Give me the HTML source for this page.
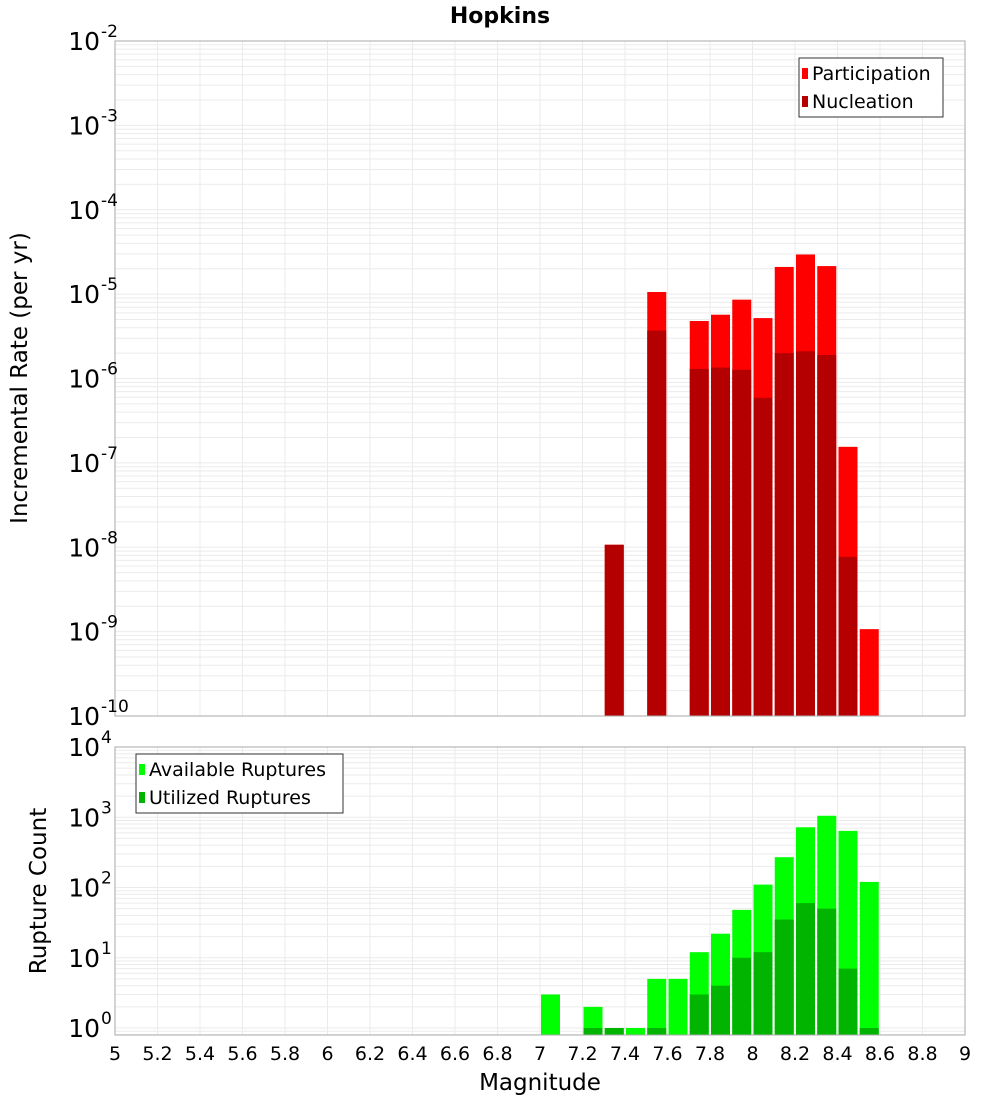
<!DOCTYPE html>
<html><head><meta charset="utf-8"><style>
body{margin:0;background:#fff}
svg text{font-family:"DejaVu Sans","Liberation Sans",sans-serif}
</style></head><body>
<svg id="c" width="1000" height="1100" xmlns="http://www.w3.org/2000/svg"></svg>
<script>
const mags = [7.05,7.25,7.35,7.45,7.55,7.65,7.75,7.85,7.95,8.05,8.15,8.25,8.35,8.45,8.55];
const participation = [0,0,1.07e-8,0,1.06e-5,0,4.8e-6,5.7e-6,8.6e-6,5.2e-6,2.1e-5,2.95e-5,2.15e-5,1.55e-7,1.07e-9];
const nucleation = [0,0,1.07e-8,0,3.7e-6,0,1.3e-6,1.35e-6,1.27e-6,5.9e-7,2.0e-6,2.1e-6,1.9e-6,7.7e-9,0];
const available = [3,2,1,1,5,5,12,22,48,110,270,720,1050,640,120];
const utilized = [0,1,1,0,1,0,3,4,10,12,35,60,50,7,1];
const xTicks = [5,5.2,5.4,5.6,5.8,6,6.2,6.4,6.6,6.8,7,7.2,7.4,7.6,7.8,8,8.2,8.4,8.6,8.8,9];
const topExps = [-2,-3,-4,-5,-6,-7,-8,-9,-10];
const botExps = [4,3,2,1,0];

const NS='http://www.w3.org/2000/svg';
const svg=document.getElementById('c');
function el(t,a,p){const e=document.createElementNS(NS,t);for(const k in a)e.setAttribute(k,a[k]);(p||svg).appendChild(e);return e;}
const X0=115,X1=965;
const xs=m=>X0+(m-5)/4*(X1-X0);
const T0=41,T1=716;
const yt=v=>T0+(-2-Math.log10(v))*(T1-T0)/8;
const B0=747,B1=1035;
const yb=v=>1028-Math.log10(v)*70.25;

function grid(y0,y1,yf,minE,maxE,name){
  const g=el('g',{});  
  for(let e=minE;e<=maxE;e++)for(let k=1;k<10;k++){const y=yf(k*Math.pow(10,e));if(y>=y0&&y<=y1)el('line',{x1:X0,x2:X1,y1:y,y2:y,stroke:'#ebebeb','stroke-width':1},g);}
  xTicks.forEach(t=>{const x=xs(t);el('line',{x1:x,x2:x,y1:y0,y2:y1,stroke:'#ebebeb','stroke-width':1},g);});
}
grid(T0,T1,yt,-10,-3,'top-grid');
grid(B0,B1,yb,-1,3,'bottom-grid');

const bw=19;
mags.forEach((m,i)=>{
  const x=xs(m-0.05)+1;
  if(participation[i]>0){const y=yt(participation[i]);const r=el('rect',{x:x,y:y,width:bw,height:T1-y,fill:'#ff0000'});}
  if(nucleation[i]>0){const y=yt(nucleation[i]);const r=el('rect',{x:x,y:y,width:bw,height:T1-y,fill:'#b40000'});}
  if(available[i]>0){const y=yb(available[i]);const r=el('rect',{x:x,y:y,width:bw,height:B1-y,fill:'#00ff00'});}
  if(utilized[i]>0){const y=yb(utilized[i]);const r=el('rect',{x:x,y:y,width:bw,height:B1-y,fill:'#00b400'});}
});

el('rect',{x:X0,y:T0,width:X1-X0,height:T1-T0,fill:'none',stroke:'#aaa','stroke-width':1,});
el('rect',{x:X0,y:B0,width:X1-X0,height:B1-B0,fill:'none',stroke:'#aaa','stroke-width':1,});

function ylab(y,e,name){
  const t=el('text',{x:100,y:y+9,'font-size':25,'text-anchor':'end',fill:'#000'});t.textContent='10';
  
  const s=el('text',{x:101,y:y-4,'font-size':17,fill:'#000'});s.textContent=String(e);
  
}
topExps.forEach(e=>ylab(yt(Math.pow(10,e)),e,'top-y-tick'));
botExps.forEach(e=>ylab(yb(Math.pow(10,e)),e,'bottom-y-tick'));

xTicks.forEach(t=>{const x=xs(t);const tx=el('text',{x:x,y:1060,'font-size':19,'text-anchor':'middle'});tx.textContent=String(t);
  });

let t=el('text',{x:500,y:23,'font-size':22,'font-weight':'bold','text-anchor':'middle',});t.textContent='Hopkins';
t=el('text',{x:540,y:1090,'font-size':23,'text-anchor':'middle',});t.textContent='Magnitude';
t=el('text',{x:0,y:0,'font-size':23,'text-anchor':'middle',transform:'translate(27,378) rotate(-90)',});t.textContent='Incremental Rate (per yr)';
t=el('text',{x:0,y:0,'font-size':23,'text-anchor':'middle',transform:'translate(46,891) rotate(-90)',});t.textContent='Rupture Count';

function legend(x,y,w,items,name){
  const g=el('g',{});
  el('rect',{x:x,y:y,width:w,height:59,fill:'#fff',stroke:'#333','stroke-width':1},g);
  items.forEach((it,i)=>{const cy=y+15+i*28;
    el('rect',{x:x+3,y:cy-5,width:6,height:11,fill:it[1]},g);
    const tx=el('text',{x:x+13,y:cy+7,'font-size':19},g);tx.textContent=it[0];
    });
}
legend(799,58,144,[['Participation','#ff0000'],['Nucleation','#b40000']],'top-legend');
legend(136,754,207,[['Available Ruptures','#00ff00'],['Utilized Ruptures','#00b400']],'bottom-legend');
</script>
</body></html>
